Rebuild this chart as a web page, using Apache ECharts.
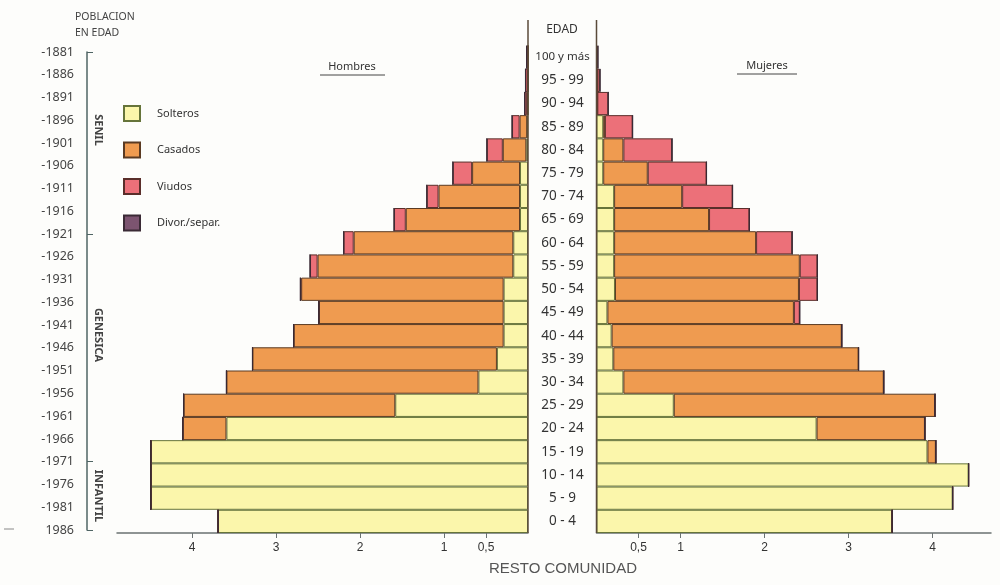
<!DOCTYPE html>
<html>
<head>
<meta charset="utf-8">
<script src="https://cdn.jsdelivr.net/npm/echarts@6/dist/echarts.min.js"></script>
<style>
  html, body { margin: 0; padding: 0; background: #fdfdfb; }
  #chart { width: 1000px; height: 585px; }
</style>
</head>
<body>
<div id="chart"></div>
<script>
// grupos de edad, de abajo (0-4) hacia arriba (100 y más)
const ages = ['0 - 4', '5 - 9', '10 - 14', '15 - 19', '20 - 24', '25 - 29', '30 - 34',
  '35 - 39', '40 - 44', '45 - 49', '50 - 54', '55 - 59', '60 - 64', '65 - 69',
  '70 - 74', '75 - 79', '80 - 84', '85 - 89', '90 - 94', '95 - 99', '100 y más']

// años de nacimiento (eje izquierdo), de abajo hacia arriba
const years = [1986, 1981, 1976, 1971, 1966, 1961, 1956, 1951, 1946, 1941, 1936,
  1931, 1926, 1921, 1916, 1911, 1906, 1901, 1896, 1891, 1886, 1881]

const xTicks = [0.5, 1, 2, 3, 4]

// Hombres (%)
const hSolteros = [3.69, 4.49, 4.49, 4.49, 3.59, 1.58, 0.59, 0.37, 0.29, 0.29, 0.29,
  0.175, 0.175, 0.095, 0.095, 0.095, 0.02, 0.01, 0, 0, 0]
const hCasados = [0, 0, 0, 0, 0.52, 2.52, 3.0, 2.91, 2.5, 2.2, 2.41,
  2.33, 1.9, 1.36, 0.97, 0.57, 0.28, 0.09, 0.01, 0, 0]
const hViudos = [0, 0, 0, 0, 0, 0, 0, 0, 0, 0, 0.01,
  0.09, 0.12, 0.14, 0.14, 0.23, 0.19, 0.09, 0.03, 0.03, 0.015]
const hDivorciados = [0, 0, 0, 0, 0, 0, 0, 0, 0, 0, 0,
  0, 0, 0, 0, 0, 0, 0, 0, 0, 0.005]

// Mujeres (%)
const mSolteros = [3.52, 4.24, 4.43, 3.94, 2.62, 0.92, 0.32, 0.2, 0.18, 0.13, 0.22,
  0.21, 0.21, 0.21, 0.21, 0.08, 0.08, 0.08, 0.01, 0.01, 0]
const mCasados = [0, 0, 0, 0.1, 1.29, 3.11, 3.1, 2.92, 2.74, 2.22, 2.19,
  2.21, 1.69, 1.13, 0.81, 0.53, 0.24, 0.02, 0, 0, 0]
const mViudos = [0, 0, 0, 0, 0, 0, 0, 0, 0, 0.07, 0.22,
  0.21, 0.43, 0.48, 0.60, 0.70, 0.58, 0.33, 0.13, 0.03, 0.015]
const mDivorciados = [0, 0, 0, 0, 0, 0, 0, 0, 0, 0, 0,
  0, 0, 0, 0, 0, 0, 0, 0, 0.005, 0.005]

const colors = {
  'Solteros': '#fbf6ab',
  'Casados': '#ef9b50',
  'Viudos': '#ec7079',
  'Divor./separ.': '#7c5470'
}
const borders = {
  'Solteros': '#66743a',
  'Casados': '#5a3a22',
  'Viudos': '#5a2e2a',
  'Divor./separ.': '#3a2a35'
}

const chart = echarts.init(document.getElementById('chart'))

const gridTop = 45.5, gridBottom = 52
const leftZero = 528, rightZero = 596.5
const font = 'Noto Sans'

function bar(name, data, side) {
  return {
    name: name,
    type: 'bar',
    stack: side,
    xAxisIndex: side === 'h' ? 0 : 1,
    yAxisIndex: side === 'h' ? 0 : 1,
    barWidth: '100%',
    data: data,
    itemStyle: { color: colors[name], borderColor: borders[name], borderWidth: 1 },
    silent: true
  }
}

function valueAxis(grid, max, inverse) {
  return {
    type: 'value',
    gridIndex: grid,
    min: 0,
    max: max,
    inverse: inverse,
    splitLine: { show: false },
    axisLine: { show: true, lineStyle: { color: '#6a7272', width: 1.5 } },
    axisTick: { show: true, length: 5, customValues: xTicks, lineStyle: { color: '#6a7272' } },
    axisLabel: {
      customValues: xTicks,
      color: '#333',
      fontSize: 12,
      fontFamily: 'Liberation Sans',
      margin: 9,
      formatter: v => (v === 0.5 ? '0,5' : String(v))
    }
  }
}

const option = {
  backgroundColor: '#fdfdfb',
  animation: false,
  textStyle: { fontFamily: font },
  legend: {
    orient: 'vertical',
    left: 123,
    top: 105,
    padding: 0,
    itemWidth: 16,
    itemHeight: 15,
    itemGap: 19.5,
    icon: 'rect',
    selectedMode: false,
    data: ['Solteros', 'Casados', 'Viudos', 'Divor./separ.'],
    textStyle: { color: '#333', fontSize: 11, fontFamily: font, padding: [0, 0, 0, 12] }
  },
  grid: [
    { left: 117, right: 1000 - leftZero, top: gridTop, bottom: gridBottom },
    { left: rightZero, right: 9, top: gridTop, bottom: gridBottom },
    { left: 87, width: 1, top: 52, bottom: 55 }
  ],
  xAxis: [
    valueAxis(0, (leftZero - 117) / 84, true),
    valueAxis(1, (991 - rightZero) / 84, false),
    { type: 'value', gridIndex: 2, show: false }
  ],
  yAxis: [
    {
      type: 'category', gridIndex: 0, data: ages, position: 'right',
      axisLine: { show: false }, axisTick: { show: false }, axisLabel: { show: false }
    },
    {
      type: 'category', gridIndex: 1, data: ages, position: 'left',
      axisLine: { show: false }, axisTick: { show: false },
      axisLabel: {
        align: 'center', margin: 34, color: '#333', fontSize: 13.5, fontFamily: font,
        formatter: v => (v.length > 7 ? '{s|' + v + '}' : v),
        rich: { s: { fontSize: 11.5, color: '#333', fontFamily: font } }
      }
    },
    {
      type: 'value', gridIndex: 2, min: 0, max: years.length - 1, interval: 1,
      position: 'left',
      splitLine: { show: false },
      axisLine: { show: true, lineStyle: { color: '#4f6464', width: 1.5 } },
      axisTick: { show: true, inside: true, length: 6, customValues: [0, 3, 13, 21], lineStyle: { color: '#4f6464' } },
      axisLabel: {
        color: '#444', fontSize: 12.5, fontFamily: font, margin: 13,
        formatter: v => (v === 0 ? '' : '-') + years[v]
      }
    }
  ],
  series: [
    bar('Solteros', hSolteros, 'h'),
    bar('Casados', hCasados, 'h'),
    bar('Viudos', hViudos, 'h'),
    bar('Divor./separ.', hDivorciados, 'h'),
    bar('Solteros', mSolteros, 'm'),
    bar('Casados', mCasados, 'm'),
    bar('Viudos', mViudos, 'm'),
    bar('Divor./separ.', mDivorciados, 'm')
  ],
  graphic: [
    { type: 'text', left: 75, top: 9, style: { text: 'POBLACION\nEN EDAD', fill: '#444', font: '10.5px ' + font, lineHeight: 16 } },
    { type: 'text', x: 562, y: 30, style: { text: 'EDAD', fill: '#333', font: '12px ' + font, align: 'center', verticalAlign: 'middle' } },
    { type: 'line', shape: { x1: leftZero, y1: 20, x2: leftZero, y2: 533 }, style: { stroke: '#5a4a3a', lineWidth: 1.5 }, z: 10 },
    { type: 'line', shape: { x1: rightZero, y1: 20, x2: rightZero, y2: 533 }, style: { stroke: '#5a4a3a', lineWidth: 1.5 }, z: 10 },
    { type: 'text', x: 352, y: 67, style: { text: 'Hombres', fill: '#333', font: '11px ' + font, align: 'center', verticalAlign: 'middle' } },
    { type: 'line', shape: { x1: 320, y1: 75, x2: 385, y2: 75 }, style: { stroke: '#444', lineWidth: 1 } },
    { type: 'text', x: 767, y: 66, style: { text: 'Mujeres', fill: '#333', font: '11px ' + font, align: 'center', verticalAlign: 'middle' } },
    { type: 'line', shape: { x1: 737, y1: 74, x2: 797, y2: 74 }, style: { stroke: '#444', lineWidth: 1 } },
    { type: 'text', x: 98, y: 130, rotation: -Math.PI / 2, style: { text: 'SENIL', fill: '#444', font: 'bold 11px ' + font, align: 'center', verticalAlign: 'middle' } },
    { type: 'text', x: 98, y: 335, rotation: -Math.PI / 2, style: { text: 'GENESICA', fill: '#444', font: 'bold 11px ' + font, align: 'center', verticalAlign: 'middle' } },
    { type: 'text', x: 98, y: 496, rotation: -Math.PI / 2, style: { text: 'INFANTIL', fill: '#444', font: 'bold 11px ' + font, align: 'center', verticalAlign: 'middle' } },
    { type: 'line', shape: { x1: 4, y1: 529, x2: 14, y2: 529 }, style: { stroke: '#888', lineWidth: 1 } },
    { type: 'text', x: 563, y: 569, style: { text: 'RESTO COMUNIDAD', fill: '#555', font: '15px Liberation Sans', align: 'center', verticalAlign: 'middle' } }
  ]
}

chart.setOption(option)
</script>
</body>
</html>
